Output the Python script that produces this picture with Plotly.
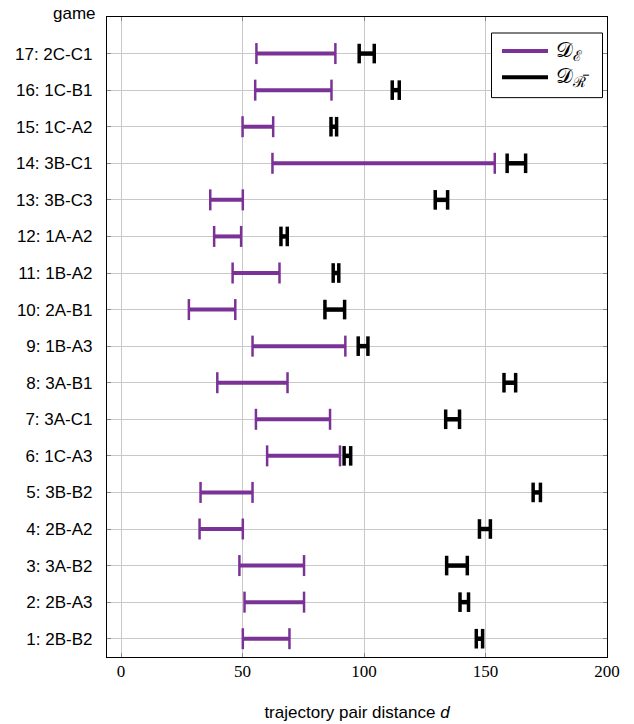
import plotly.graph_objects as go

games = ["1: 2B-B2", "2: 2B-A3", "3: 3A-B2", "4: 2B-A2", "5: 3B-B2", "6: 1C-A3",
         "7: 3A-C1", "8: 3A-B1", "9: 1B-A3", "10: 2A-B1", "11: 1B-A2", "12: 1A-A2",
         "13: 3B-C3", "14: 3B-C1", "15: 1C-A2", "16: 1C-B1", "17: 2C-C1"]
e_lo = [50.1, 50.8, 48.7, 32.3, 32.7, 60.1, 55.5, 39.6, 54.1, 27.9, 45.9, 38.3, 36.7, 62.3, 50.0, 55.2, 55.7]
e_hi = [69.3, 75.3, 75.3, 50.1, 54.1, 90.1, 86.0, 68.5, 92.3, 47.0, 65.2, 49.4, 50.1, 153.8, 62.6, 86.6, 88.2]
r_lo = [146.2, 139.5, 134.0, 147.5, 169.6, 91.8, 133.6, 157.6, 97.6, 83.9, 87.3, 65.8, 129.3, 158.9, 86.4, 111.6, 98.0]
r_hi = [148.8, 143.0, 142.5, 152.0, 172.6, 94.5, 139.3, 162.4, 101.6, 92.0, 89.6, 68.4, 134.4, 166.5, 88.7, 114.5, 104.2]
xticks = [0, 50, 100, 150, 200]
legend_names = ["𝒟<sub>ℰ</sub>", "𝒟<sub>ℛ̅</sub>"]

PURPLE = "#7a3296"
rows = list(range(1, len(games) + 1))

def seg(lo, hi):
    xs, ys = [], []
    for i, (a, b) in enumerate(zip(lo, hi)):
        xs += [a, b, None]
        ys += [rows[i], rows[i], None]
    return xs, ys

fig = go.Figure()
xe, ye = seg(e_lo, e_hi)
xr, yr = seg(r_lo, r_hi)
fig.add_trace(go.Scatter(x=xe, y=ye, mode="lines+markers", name=legend_names[0], showlegend=False,
                         line=dict(color=PURPLE, width=4),
                         marker=dict(symbol="line-ns", size=15, line=dict(color=PURPLE, width=2.5))))
fig.add_trace(go.Scatter(x=xr, y=yr, mode="lines+markers", name=legend_names[1], showlegend=False,
                         line=dict(color="black", width=4.5),
                         marker=dict(symbol="line-ns", size=14, line=dict(color="black", width=3.5))))

# manual legend (paper coordinates)
shapes = [
    dict(type="rect", xref="paper", yref="paper", x0=0.769, x1=0.991, y0=0.874, y1=0.975,
         line=dict(color="black", width=1), fillcolor="white", layer="above"),
    dict(type="line", xref="paper", yref="paper", x0=0.79, x1=0.882, y0=0.947, y1=0.947,
         line=dict(color=PURPLE, width=4), layer="above"),
    dict(type="line", xref="paper", yref="paper", x0=0.79, x1=0.882, y0=0.906, y1=0.906,
         line=dict(color="black", width=4), layer="above"),
]
annotations = [
    dict(text=legend_names[0], xref="paper", yref="paper", x=0.894, y=0.947, xanchor="left",
         yanchor="middle", showarrow=False, font=dict(family="DejaVu Serif, serif", size=21)),
    dict(text=legend_names[1], xref="paper", yref="paper", x=0.894, y=0.906, xanchor="left",
         yanchor="middle", showarrow=False, font=dict(family="DejaVu Serif, serif", size=21)),
    dict(text="game", xref="paper", yref="paper", x=-0.018, y=1.005,
         xanchor="right", yanchor="middle", showarrow=False, font=dict(size=17)),
]

fig.update_layout(
    width=634, height=724,
    margin=dict(l=107, r=27, t=17, b=67),
    plot_bgcolor="white", paper_bgcolor="white",
    font=dict(family="Liberation Sans, Arial, sans-serif", size=17, color="black"),
    showlegend=False,
    shapes=shapes, annotations=annotations,
)
fig.update_xaxes(range=[-5.8, 200], tickvals=xticks, ticktext=[str(t) for t in xticks],
                 showgrid=True, gridcolor="#c8c8c8", gridwidth=1,
                 showline=True, linecolor="black", linewidth=1.2, mirror="ticks",
                 ticks="inside", ticklen=4, tickcolor="#888888",
                 tickfont=dict(family="Liberation Serif, serif", size=17),
                 ticklabelstandoff=-2,
                 title=dict(text="trajectory pair distance <i>d</i>", standoff=26,
                            font=dict(size=17)),
                 zeroline=False, automargin=False)
fig.update_yaxes(range=[0.5, 18], tickvals=rows, ticktext=games,
                 showgrid=True, gridcolor="#c8c8c8", gridwidth=1,
                 showline=True, linecolor="black", linewidth=1.2, mirror="ticks",
                 ticks="inside", ticklen=4, tickcolor="#888888",
                 ticklabelstandoff=10, zeroline=False, automargin=False)

fig.write_html("out.html", config={"displayModeBar": False},
               post_script="document.body.style.margin='0';")
